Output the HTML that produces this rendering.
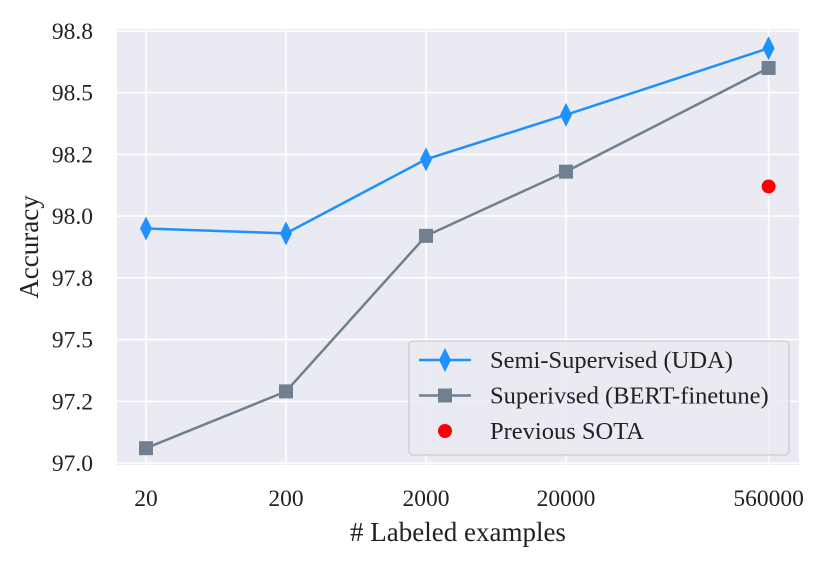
<!DOCTYPE html>
<html><head><meta charset="utf-8"><style>body{margin:0;background:#fff}svg{display:block;font-family:"Liberation Serif",serif}</style></head>
<body>
<svg id="c" width="831" height="562" xmlns="http://www.w3.org/2000/svg"></svg>
<script>
const categories=[20,200,2000,20000,560000];
const xTickLabels=["20","200","2000","20000","560000"];
const udaValues=[97.95,97.93,98.23,98.41,98.68];
const bertValues=[97.06,97.29,97.92,98.18,98.60];
const sotaX=[560000];
const sotaValues=[98.12];
const yTicks=[97.0,97.25,97.5,97.75,98.0,98.25,98.5,98.75];
const yTickLabels=["97.0","97.2","97.5","97.8","98.0","98.2","98.5","98.8"];
const NS="http://www.w3.org/2000/svg",svg=document.getElementById('c');
const L=117,R=799,T=29,B=465;
function x(v){return 146+(Math.log10(v)-Math.log10(20))*140;}
function y(v){return 463-(v-97.0)*246.9;}
function mk(t,a,p){const e=document.createElementNS(NS,t);for(const k in a)e.setAttribute(k,a[k]);(p||svg).appendChild(e);return e;}
const bg=mk('rect',{x:L,y:T,width:R-L,height:B-T,fill:'#eaeaf2'});


yTicks.forEach((t,i)=>{const g=mk('line',{x1:L,x2:R,y1:y(t),y2:y(t),stroke:'#fff','stroke-width':1.6});


const tx=mk('text',{x:93,y:y(t)+8,'text-anchor':'end','font-size':23.5,fill:'#222'});tx.textContent=yTickLabels[i];

});
categories.forEach((c,i)=>{const g=mk('line',{x1:x(c),x2:x(c),y1:T,y2:B,stroke:'#fff','stroke-width':1.6});


const tx=mk('text',{x:x(c),y:506,'text-anchor':'middle','font-size':23.5,fill:'#222'});tx.textContent=xTickLabels[i];

});
function series(vals,color,name,marker){
const p=mk('polyline',{points:vals.map((v,i)=>x(categories[i])+','+y(v)).join(' '),fill:'none',stroke:color,'stroke-width':2.5});


vals.forEach((v,i)=>{const cx=x(categories[i]),cy=y(v);let m;
if(marker==='d')m=mk('polygon',{points:`${cx},${cy-12} ${cx+6},${cy} ${cx},${cy+12} ${cx-6},${cy}`,fill:color});
else m=mk('rect',{x:cx-7,y:cy-7,width:14,height:14,fill:color});

});}
series(bertValues,'#708090','bert','s');
series(udaValues,'#1e90ff','uda','d');
sotaValues.forEach((v,i)=>{const m=mk('circle',{cx:x(sotaX[i]),cy:y(v),r:7,fill:'#ff0000'});

});
const lg=mk('g',{});


mk('rect',{x:409,y:341,width:380,height:114,rx:4,fill:'#eaeaf2','fill-opacity':0.85,stroke:'#ccc','stroke-width':1.3},lg);
const items=[['Semi-Supervised (UDA)','#1e90ff','d'],['Superivsed (BERT-finetune)','#708090','s'],['Previous SOTA','#ff0000','o']];
items.forEach((it,i)=>{const cy=360+i*35.5;
if(it[2]!=='o')mk('line',{x1:419,x2:471,y1:cy,y2:cy,stroke:it[1],'stroke-width':2.5},lg);
if(it[2]==='d')mk('polygon',{points:`445,${cy-12} 451,${cy} 445,${cy+12} 439,${cy}`,fill:it[1]},lg);
else if(it[2]==='s')mk('rect',{x:438,y:cy-7,width:14,height:14,fill:it[1]},lg);
else mk('circle',{cx:445,cy:cy,r:7,fill:it[1]},lg);
const t=mk('text',{x:490,y:cy+8,'font-size':24.5,fill:'#222'},lg);t.textContent=it[0];

});
const xt=mk('text',{x:458,y:541,'text-anchor':'middle','font-size':27,fill:'#222'});xt.textContent='# Labeled examples';


const yt=mk('text',{x:38,y:247,'text-anchor':'middle','font-size':27,fill:'#222',transform:'rotate(-90 38 247)'});yt.textContent='Accuracy';


</script>
</body></html>
